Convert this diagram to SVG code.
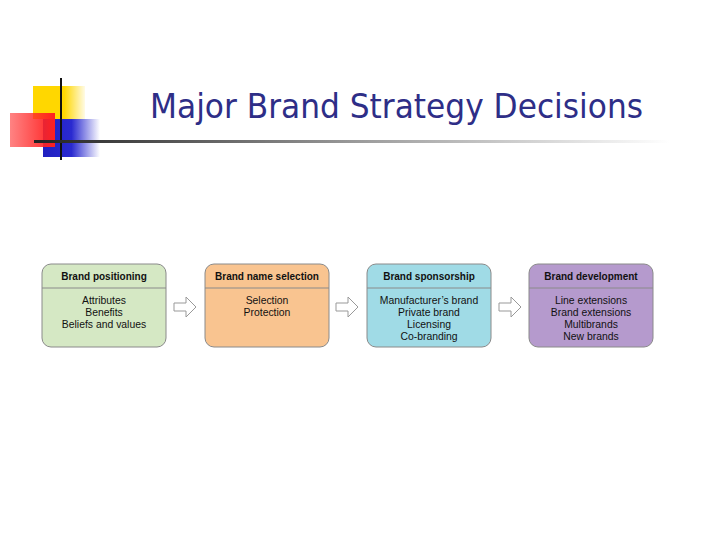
<svg xmlns="http://www.w3.org/2000/svg" width="720" height="540" viewBox="0 0 720 540">
<defs>
<linearGradient id="gy" x1="0" y1="0" x2="1" y2="0"><stop offset="0" stop-color="#ffd700"/><stop offset="0.6" stop-color="#ffd700"/><stop offset="1" stop-color="#ffd700" stop-opacity="0.1"/></linearGradient>
<linearGradient id="gr" x1="0" y1="0" x2="1" y2="0"><stop offset="0" stop-color="#ff3030" stop-opacity="0.6"/><stop offset="1" stop-color="#ff2020"/></linearGradient>
<linearGradient id="gb" x1="0" y1="0" x2="1" y2="0"><stop offset="0" stop-color="#2020c0"/><stop offset="0.5" stop-color="#2a2ad0"/><stop offset="1" stop-color="#2a2ad0" stop-opacity="0"/></linearGradient>
<linearGradient id="gl" x1="0" y1="0" x2="1" y2="0"><stop offset="0" stop-color="#222"/><stop offset="0.5" stop-color="#999"/><stop offset="1" stop-color="#fff"/></linearGradient>
</defs>
<style>
.box{stroke:#8a8a8a;stroke-width:1}
.div{stroke:#8a8a8a;stroke-width:1}
.h{font-family:"Liberation Sans",Arial,sans-serif;font-size:10px;font-weight:bold;fill:#111;text-anchor:middle}
.t{font-family:"Liberation Sans",Arial,sans-serif;font-size:10.4px;fill:#111;text-anchor:middle}
.arr{fill:#fff;stroke:#999;stroke-width:1}
</style>
<rect width="720" height="540" fill="#fff"/>
<g id="logo">
<rect x="33" y="86" width="52" height="33" fill="url(#gy)"/>
<rect x="43" y="119" width="57" height="38" fill="url(#gb)"/>
<rect x="10" y="113" width="45" height="34" fill="url(#gr)"/>
<line x1="61" y1="78" x2="61" y2="160" stroke="#111" stroke-width="2"/>
<rect x="34" y="140" width="636" height="3" fill="url(#gl)"/>
</g>
<text x="150" y="118" font-family="DejaVu Sans Condensed,DejaVu Sans,Verdana,sans-serif" font-size="34" fill="#2e2e87" textLength="493" lengthAdjust="spacingAndGlyphs">Major Brand Strategy Decisions</text>
<g id="n1">
<rect class="box" x="42" y="264" width="124" height="83" rx="9" fill="#d5e8c4"/>
<line class="div" x1="42" y1="288" x2="166" y2="288"/>
<text class="h" x="104" y="280">Brand positioning</text>
<text class="t" x="104" y="304">Attributes</text>
<text class="t" x="104" y="316">Benefits</text>
<text class="t" x="104" y="328">Beliefs and values</text>
</g>
<g id="n2">
<rect class="box" x="205" y="264" width="124" height="83" rx="9" fill="#f9c490"/>
<line class="div" x1="205" y1="288" x2="329" y2="288"/>
<text class="h" x="267" y="280">Brand name selection</text>
<text class="t" x="267" y="304">Selection</text>
<text class="t" x="267" y="316">Protection</text>
</g>
<g id="n3">
<rect class="box" x="367" y="264" width="124" height="83" rx="9" fill="#a0dbe6"/>
<line class="div" x1="367" y1="288" x2="491" y2="288"/>
<text class="h" x="429" y="280">Brand sponsorship</text>
<text class="t" x="429" y="304">Manufacturer’s brand</text>
<text class="t" x="429" y="316">Private brand</text>
<text class="t" x="429" y="328">Licensing</text>
<text class="t" x="429" y="340">Co-branding</text>
</g>
<g id="n4">
<rect class="box" x="529" y="264" width="124" height="83" rx="9" fill="#b59acd"/>
<line class="div" x1="529" y1="288" x2="653" y2="288"/>
<text class="h" x="591" y="280">Brand development</text>
<text class="t" x="591" y="304">Line extensions</text>
<text class="t" x="591" y="316">Brand extensions</text>
<text class="t" x="591" y="328">Multibrands</text>
<text class="t" x="591" y="340">New brands</text>
</g>
<g id="connectors">
<path class="arr" d="M174,303 H186 V297 L196,307 L186,317 V311 H174 Z"/>
<path class="arr" d="M336,303 H348 V297 L358,307 L348,317 V311 H336 Z"/>
<path class="arr" d="M499,303 H511 V297 L521,307 L511,317 V311 H499 Z"/>
</g>
</svg>
